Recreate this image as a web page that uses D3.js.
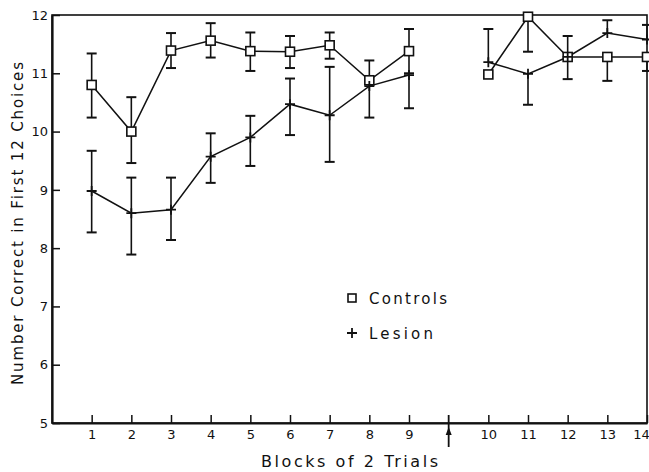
<!DOCTYPE html>
<html>
<head>
<meta charset="utf-8">
<script src="https://cdn.jsdelivr.net/npm/d3@7"></script>
<style>
  body { margin: 0; background: #fff; }
  svg { display: block; }
  text { font-family: "DejaVu Sans", sans-serif; fill: #111; }
</style>
</head>
<body>
<svg id="chart"></svg>
<script>
// blocks of 2 trials (an arrow sits between block 9 and 10)
const blocks = [1, 2, 3, 4, 5, 6, 7, 8, 9, 10, 11, 12, 13, 14];

// Controls: mean, upper and lower error bar ends (null = not drawn)
const controls   = [10.80, 10.00, 11.39, 11.56, 11.38, 11.37, 11.48, 10.88, 11.38, 10.98, 11.97, 11.28, 11.28, 11.28];
const controlsHi = [11.34, 10.59, 11.69, 11.86, 11.70, 11.64, 11.70, 11.22, 11.76, null, null, 11.64, null, null];
const controlsLo = [10.24, 9.46, 11.09, 11.27, 11.04, 11.09, 11.25, 10.24, 11.00, null, 11.37, 10.90, 10.87, 11.04];

// Lesion
const lesion   = [8.98, 8.60, 8.66, 9.57, 9.90, 10.47, 10.28, 10.78, 10.97, 11.19, 10.99, 11.28, 11.69, 11.58];
const lesionHi = [9.67, 9.21, 9.21, 9.97, 10.27, 10.91, 11.11, null, null, 11.76, null, null, 11.91, 11.83];
const lesionLo = [8.27, 7.89, 8.14, 9.12, 9.41, 9.94, 9.48, null, 10.40, null, 10.46, null, null, null];

const yTicks = [5, 6, 7, 8, 9, 10, 11, 12];

const width = 649, height = 472;
const margin = { top: 15, right: 2, bottom: 49, left: 52 };

const svg = d3.select("#chart")
    .attr("width", width)
    .attr("height", height);

// the arrow takes its own slot on the x axis, so blocks after 9 shift one place
const slot = b => b <= 9 ? b : b + 1;

const x = d3.scaleLinear()
    .domain([0, 15])
    .range([margin.left, width - margin.right]);

const y = d3.scaleLinear()
    .domain([5, 12])
    .range([height - margin.bottom, margin.top]);

// frame (top and right lines)
svg.append("rect")
    .attr("x", x(0))
    .attr("y", y(12))
    .attr("width", x(15) - x(0))
    .attr("height", y(5) - y(12))
    .attr("fill", "none")
    .attr("stroke", "#111")
    .attr("stroke-width", 1.6);

// x axis
const xAxis = svg.append("g")
    .attr("transform", `translate(0,${y(5)})`)
    .call(d3.axisBottom(x)
        .tickValues(blocks.map(slot))
        .tickFormat((d, i) => blocks[i])
        .tickSizeInner(-8)
        .tickSizeOuter(0)
        .tickPadding(7));
xAxis.select(".domain").attr("stroke-width", 2.2).attr("stroke", "#111");
xAxis.selectAll(".tick line").attr("stroke-width", 1.5).attr("stroke", "#111");
xAxis.selectAll("text")
    .attr("font-size", 13)
    .attr("font-family", "DejaVu Sans")
    .attr("dx", (d, i) => i === blocks.length - 1 ? -6 : 0); // keep "14" inside the window

// y axis
const yAxis = svg.append("g")
    .attr("transform", `translate(${x(0)},0)`)
    .call(d3.axisLeft(y)
        .tickValues(yTicks)
        .tickFormat(d3.format("d"))
        .tickSizeInner(-8)
        .tickSizeOuter(0)
        .tickPadding(4));
yAxis.select(".domain").attr("stroke-width", 2.2).attr("stroke", "#111");
yAxis.selectAll(".tick line").attr("stroke-width", 1.5).attr("stroke", "#111");
yAxis.selectAll("text").attr("font-size", 13).attr("font-family", "DejaVu Sans");

// arrow between block 9 and 10
const ax = x(10);
svg.append("line")
    .attr("x1", ax).attr("x2", ax)
    .attr("y1", y(5) - 8).attr("y2", y(5) + 24)
    .attr("stroke", "#111")
    .attr("stroke-width", 1.8);
svg.append("path")
    .attr("d", `M${ax},${y(5) + 4} L${ax - 3},${y(5) + 12} L${ax + 3},${y(5) + 12} Z`)
    .attr("fill", "#111");

// axis titles
svg.append("text")
    .attr("x", 261)
    .attr("y", 467)
    .attr("font-size", 16)
    .attr("textLength", 177)
    .attr("lengthAdjust", "spacing")
    .text("Blocks of 2 Trials");

svg.append("text")
    .attr("transform", "translate(23,385) rotate(-90)")
    .attr("font-size", 15)
    .attr("textLength", 323)
    .attr("lengthAdjust", "spacing")
    .text("Number Correct in First 12 Choices");

function drawSeries(vals, hi, lo) {
    const pts = blocks.map((b, i) => ({ b: b, v: vals[i], hi: hi[i], lo: lo[i] }));
    const line = d3.line().x(d => x(slot(d.b))).y(d => y(d.v));
    // two separate segments, broken at the arrow
    [pts.filter(d => d.b <= 9), pts.filter(d => d.b >= 10)].forEach(seg => {
        svg.append("path")
            .attr("d", line(seg))
            .attr("fill", "none")
            .attr("stroke", "#111")
            .attr("stroke-width", 1.5);
    });
    const g = svg.append("g").attr("stroke", "#111").attr("stroke-width", 1.6);
    pts.forEach(d => {
        const cx = x(slot(d.b));
        [d.hi, d.lo].forEach(e => {
            if (e == null) return;
            g.append("line")
                .attr("x1", cx).attr("x2", cx)
                .attr("y1", y(d.v)).attr("y2", y(e));
            g.append("line")
                .attr("x1", cx - 5).attr("x2", cx + 5)
                .attr("y1", y(e)).attr("y2", y(e))
                .attr("stroke-width", 2);
        });
    });
    return pts;
}

const cPts = drawSeries(controls, controlsHi, controlsLo);
const lPts = drawSeries(lesion, lesionHi, lesionLo);

// markers
svg.selectAll(".sq")
    .data(cPts)
    .enter().append("rect")
    .attr("class", "sq")
    .attr("x", d => x(slot(d.b)) - 4.5)
    .attr("y", d => y(d.v) - 4.5)
    .attr("width", 9)
    .attr("height", 9)
    .attr("fill", "#fff")
    .attr("stroke", "#111")
    .attr("stroke-width", 1.6);

svg.selectAll(".plus")
    .data(lPts)
    .enter().append("path")
    .attr("class", "plus")
    .attr("d", d => {
        const cx = x(slot(d.b)), cy = y(d.v);
        return `M${cx - 5},${cy} H${cx + 5} M${cx},${cy - 5} V${cy + 5}`;
    })
    .attr("stroke", "#111")
    .attr("stroke-width", 1.8);

// legend
svg.append("rect")
    .attr("x", 348).attr("y", 294)
    .attr("width", 8).attr("height", 8)
    .attr("fill", "#fff")
    .attr("stroke", "#111")
    .attr("stroke-width", 1.6);
svg.append("text")
    .attr("x", 369).attr("y", 304)
    .attr("font-size", 15)
    .attr("textLength", 78)
    .attr("lengthAdjust", "spacing")
    .text("Controls");

svg.append("path")
    .attr("d", "M347,333 H357 M352,328 V338")
    .attr("stroke", "#111")
    .attr("stroke-width", 1.8);
svg.append("text")
    .attr("x", 369).attr("y", 339)
    .attr("font-size", 15)
    .attr("textLength", 64)
    .attr("lengthAdjust", "spacing")
    .text("Lesion");
</script>
</body>
</html>
